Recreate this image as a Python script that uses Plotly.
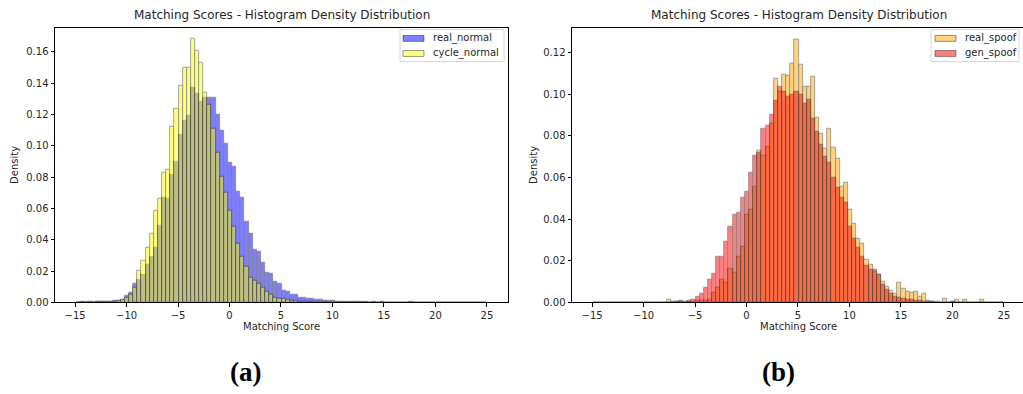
import plotly.graph_objects as go

# ---------------- data (density per bin, bins of width 0.4 starting at -14.95) ----------------
BIN_START = -14.95
BIN_WIDTH = 0.4
N_BINS = 100

real_normal = [
    0, 0.0003, 0, 0.0003, 0, 0.0003, 0.0005, 0.0005, 0.0008, 0.0010,
    0.0013, 0.0019, 0.0040, 0.0065, 0.0117, 0.0148, 0.0180, 0.0240, 0.0295, 0.0347,
    0.0490, 0.0670, 0.0665, 0.0818, 0.0901, 0.1069, 0.1163, 0.1190, 0.1370, 0.1334,
    0.1280, 0.1310, 0.1310, 0.1309, 0.1198, 0.1100, 0.1017, 0.0895, 0.0864, 0.0707,
    0.0671, 0.0515, 0.0437, 0.0337, 0.0322, 0.0257, 0.0190, 0.0186, 0.0132, 0.0117,
    0.0075, 0.0071, 0.0048, 0.0048, 0.0033, 0.0029, 0.0023, 0.0023, 0.0017, 0.0017,
    0.0013, 0.0010, 0.0010, 0.0008, 0.0008, 0.0005, 0.0005, 0.0005, 0.0003, 0.0003,
    0.0003, 0, 0.0003, 0, 0.0003, 0, 0, 0, 0, 0,
    0, 0.0003, 0, 0, 0, 0, 0, 0, 0, 0,
    0, 0, 0, 0, 0, 0, 0, 0, 0, 0,
]

cycle_normal = [
    0, 0, 0.0003, 0, 0.0003, 0.0003, 0.0003, 0.0005, 0.0005, 0.0008,
    0.0010, 0.0015, 0.0030, 0.0050, 0.0095, 0.0201, 0.0264, 0.0347, 0.0441, 0.0588,
    0.0661, 0.0828, 0.0849, 0.1121, 0.1236, 0.1383, 0.1498, 0.1498, 0.1686, 0.1606,
    0.1529, 0.1340, 0.1260, 0.1110, 0.0954, 0.0803, 0.0703, 0.0588, 0.0483, 0.0374,
    0.0295, 0.0228, 0.0155, 0.0142, 0.0117, 0.0092, 0.0071, 0.0048, 0.0033, 0.0027,
    0.0023, 0.0017, 0.0013, 0.0010, 0.0008, 0.0005, 0.0005, 0.0003, 0.0003, 0,
    0.0003, 0, 0, 0, 0, 0, 0, 0, 0, 0,
    0, 0, 0, 0, 0, 0, 0, 0, 0, 0,
    0, 0, 0, 0, 0, 0, 0, 0, 0, 0,
    0, 0, 0, 0, 0, 0, 0, 0, 0, 0,
]

real_spoof = [
    0, 0, 0, 0, 0, 0, 0, 0, 0, 0,
    0, 0, 0, 0, 0, 0, 0, 0, 0.0013, 0,
    0.0003, 0.0005, 0, 0.0005, 0.0005, 0.0008, 0.0010, 0.0008, 0.0014, 0.0049,
    0.0072, 0.0108, 0.0096, 0.0163, 0.0143, 0.0221, 0.0268, 0.0422, 0.0445, 0.0554,
    0.0731, 0.0707, 0.0750, 0.0857, 0.1076, 0.1013, 0.1095, 0.1089, 0.1147, 0.1264,
    0.1140, 0.1037, 0.1037, 0.1087, 0.0890, 0.0810, 0.0740, 0.0836, 0.0745, 0.0689,
    0.0555, 0.0574, 0.0445, 0.0380, 0.0307, 0.0284, 0.0207, 0.0182, 0.0150, 0.0135,
    0.0100, 0.0075, 0.0055, 0.0040, 0.0096, 0.0068, 0.0050, 0.0048, 0.0050, 0.0030,
    0.0040, 0.0008, 0.0005, 0.0003, 0, 0.0017, 0, 0.0005, 0.0011, 0,
    0.0011, 0, 0, 0, 0.0011, 0, 0, 0, 0, 0,
]

gen_spoof = [
    0, 0, 0, 0, 0, 0, 0, 0, 0, 0,
    0, 0, 0, 0, 0, 0, 0, 0, 0, 0.0003,
    0.0005, 0.0008, 0.0005, 0.0010, 0.0013, 0.0030, 0.0044, 0.0069, 0.0111, 0.0140,
    0.0221, 0.0218, 0.0292, 0.0365, 0.0422, 0.0433, 0.0504, 0.0530, 0.0624, 0.0707,
    0.0720, 0.0836, 0.0849, 0.0900, 0.0970, 0.1037, 0.1013, 0.0990, 0.1000, 0.1013,
    0.0998, 0.0955, 0.0974, 0.0885, 0.0822, 0.0760, 0.0700, 0.0670, 0.0600, 0.0550,
    0.0505, 0.0480, 0.0362, 0.0307, 0.0262, 0.0218, 0.0177, 0.0158, 0.0155, 0.0135,
    0.0083, 0.0060, 0.0040, 0.0030, 0.0025, 0.0017, 0.0014, 0.0014, 0.0010, 0.0008,
    0.0005, 0.0005, 0.0003, 0, 0, 0, 0, 0.0005, 0, 0,
    0, 0, 0, 0, 0, 0, 0, 0, 0, 0,
]

x_ticks = [-15, -10, -5, 0, 5, 10, 15, 20, 25]
y_ticks_left = [0.00, 0.02, 0.04, 0.06, 0.08, 0.10, 0.12, 0.14, 0.16]
y_ticks_right = [0.00, 0.02, 0.04, 0.06, 0.08, 0.10, 0.12]

TITLE = "Matching Scores - Histogram Density Distribution"

# ---------------- layout helpers ----------------
W, H = 1023, 394


def px(x):
    return x / W


def py(y):
    return 1 - y / H


centers = [BIN_START + BIN_WIDTH * (k + 0.5) for k in range(N_BINS)]

FONT = "DejaVu Sans"
TXT = "#262626"


def bar(y, color, name, xa, ya):
    return go.Bar(
        x=centers, y=y, width=BIN_WIDTH, name=name,
        marker=dict(color=color, line=dict(color="black", width=0.7)),
        opacity=0.5, xaxis=xa, yaxis=ya, showlegend=False,
    )


fig = go.Figure()
fig.add_trace(bar(real_normal, "#0000ff", "real_normal", "x", "y"))
fig.add_trace(bar(cycle_normal, "#ffff00", "cycle_normal", "x", "y"))
fig.add_trace(bar(real_spoof, "#ffa500", "real_spoof", "x2", "y2"))
fig.add_trace(bar(gen_spoof, "#ff0000", "gen_spoof", "x2", "y2"))

L0, L1 = 55, 508
R0, R1 = 572, 1025
TOP, BOT = 28, 307
XR = [-16.95, 27.05]

axis_common = dict(
    showline=True, linecolor="black", linewidth=1, ticks="outside", ticklen=3.5,
    tickwidth=0.8, tickcolor="black", showgrid=False, zeroline=False,
    tickfont=dict(family=FONT, size=10, color=TXT),
)

fig.update_layout(
    width=W, height=H, margin=dict(l=0, r=0, t=0, b=0),
    paper_bgcolor="white", plot_bgcolor="white", barmode="overlay",
    bargap=0,
    xaxis=dict(domain=[px(L0), px(L1)], range=XR, tickvals=x_ticks, mirror=True,
               anchor="y", **axis_common),
    yaxis=dict(domain=[py(BOT), py(TOP)], range=[0, 0.1755], tickvals=y_ticks_left,
               tickformat=".2f", mirror=True, anchor="x", **axis_common),
    xaxis2=dict(domain=[px(R0), 1.0], range=[XR[0], XR[0] + (XR[1] - XR[0]) * (W - R0) / (R1 - R0)],
                tickvals=x_ticks, mirror=True, anchor="y2", **axis_common),
    yaxis2=dict(domain=[py(BOT), py(TOP)], range=[0, 0.132], tickvals=y_ticks_right,
                tickformat=".2f", mirror=False, anchor="x2", **axis_common),
)

ann = []
# titles
for cx in [(L0 + L1) / 2, (R0 + R1) / 2]:
    ann.append(dict(text=TITLE, x=px(cx), y=py(15), xref="paper", yref="paper",
                    showarrow=False, xanchor="center", yanchor="middle",
                    font=dict(family=FONT, size=12, color=TXT)))
    ann.append(dict(text="Matching Score", x=px(cx), y=py(332), xref="paper", yref="paper",
                    showarrow=False, xanchor="center", yanchor="middle",
                    font=dict(family=FONT, size=10, color=TXT)))
for dx in [15, 534]:
    ann.append(dict(text="Density", x=px(dx), y=py((TOP + BOT) / 2), xref="paper", yref="paper",
                    showarrow=False, xanchor="center", yanchor="middle", textangle=-90,
                    font=dict(family=FONT, size=10, color=TXT)))
# sub-captions
for lab, cx in [("(a)", 245), ("(b)", 778)]:
    ann.append(dict(text="<b>%s</b>" % lab, x=px(cx), y=py(378), xref="paper", yref="paper",
                    showarrow=False, xanchor="center", yanchor="middle",
                    font=dict(family="Liberation Serif", size=27, color="black")))

shapes = []


def legend(x0, x1, patch_x0, patch_x1, text_x, entries):
    shapes.append(dict(type="rect", xref="paper", yref="paper",
                       x0=px(x0), x1=px(x1), y0=py(62.5), y1=py(30),
                       line=dict(color="#d5d5d5", width=1), fillcolor="rgba(255,255,255,0.8)"))
    for (name, col), yc in zip(entries, [39, 54.3]):
        shapes.append(dict(type="rect", xref="paper", yref="paper",
                           x0=px(patch_x0), x1=px(patch_x1), y0=py(yc + 3), y1=py(yc - 3),
                           line=dict(color="rgba(0,0,0,0.5)", width=0.8), fillcolor=col))
        ann.append(dict(text=name, x=px(text_x), y=py(yc), xref="paper", yref="paper",
                        showarrow=False, xanchor="left", yanchor="middle",
                        font=dict(family=FONT, size=10, color=TXT)))


legend(400, 504, 403, 424, 431, [("real_normal", "rgba(0,0,255,0.5)"),
                                 ("cycle_normal", "rgba(255,255,0,0.5)")])
legend(931, 1019, 935, 956, 963, [("real_spoof", "rgba(255,165,0,0.5)"),
                                  ("gen_spoof", "rgba(255,0,0,0.5)")])

fig.update_layout(annotations=ann, shapes=shapes)
fig.write_html(
    "out.html",
    config={"displayModeBar": False},
    post_script="document.body.style.margin='0px';document.body.style.overflow='hidden';",
)
